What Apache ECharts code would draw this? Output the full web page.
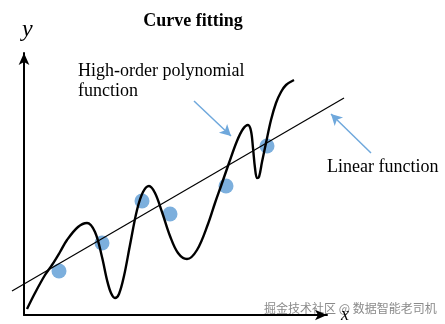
<!DOCTYPE html>
<html><head><meta charset="utf-8">
<script src="https://cdn.jsdelivr.net/npm/echarts@6/dist/echarts.min.js"></script>
<style>html,body{margin:0;padding:0;background:#fff}#c{width:445px;height:324px}</style>
</head><body><div id="c"></div>
<script>
// Data (axis units)
const samplePoints = [[35,44],[78,72],[118,114],[146,101],[202,129],[243,169]];
const linearFit = [[-12,24],[320,217]];
const polyFit = [[3,6],[11,22],[21,40],[28,50],[36,63],[43,75],[54,88],[63,92],[71,83],[78,58],[83,35],[87,22],[91,17],[95,21],[100,39],[106,70],[113,105],[119,123],[125,129],[131,122],[138,103],[146,79],[154,62],[163,56],[173,65],[184,91],[191,112],[197,129],[205,152],[213,174],[219,186],[224,190],[227,184],[229,167],[231,147],[233,137],[235,138],[238,153],[242,172],[247,195],[252,212],[257,223],[262,230],[270,235]];
const polyArrow = [[170,214],[207,179]];
const linearArrow = [[347,162],[307,201]];
const titleText = 'Curve fitting';
const polyLabel = ['High-order polynomial','function'];
const linearLabel = 'Linear function';
const watermark = '掘金技术社区 @ 数据智能老司机';

const serif = '"Liberation Serif","Times New Roman",serif';
const chart = echarts.init(document.getElementById('c'));
const hiddenAxis = {type:'value',show:false,splitLine:{show:false}};
chart.setOption({
  animation:false,
  title:{text:titleText,left:188,top:7,textAlign:'center',textStyle:{fontFamily:serif,fontWeight:'bold',fontSize:18,color:'#000'}},
  grid:[
    {left:24,top:53,width:303,height:263},
    {left:0,top:0,width:445,height:324}
  ],
  xAxis:[
    {gridIndex:0,type:'value',min:0,max:303,splitLine:{show:false},axisTick:{show:false},axisLabel:{show:false},
      axisLine:{lineStyle:{color:'#000',width:2},symbol:['none','arrow'],symbolSize:[8,12]},
      name:'x',nameLocation:'end',nameGap:14,nameTextStyle:{fontFamily:serif,fontStyle:'italic',fontSize:18,color:'#000',verticalAlign:'middle',padding:[0,0,8,0]}},
    Object.assign({gridIndex:1,min:-24,max:421},hiddenAxis)
  ],
  yAxis:[
    {gridIndex:0,type:'value',min:0,max:263,splitLine:{show:false},axisTick:{show:false},axisLabel:{show:false},
      axisLine:{lineStyle:{color:'#000',width:2},symbol:['none','arrow'],symbolSize:[8,12]},
      name:'y',nameLocation:'end',nameGap:11,nameTextStyle:{fontFamily:serif,fontStyle:'italic',fontSize:24,color:'#000',align:'left',padding:[0,0,0,-2]}},
    Object.assign({gridIndex:1,min:-9,max:315},hiddenAxis)
  ],
  graphic:[
    {type:'text',left:78,top:62,style:{text:polyLabel[0],font:'18px '+serif,fill:'#000'}},
    {type:'text',left:78,top:82,style:{text:polyLabel[1],font:'18px '+serif,fill:'#000'}},
    {type:'text',left:327,top:158,style:{text:linearLabel,font:'18px '+serif,fill:'#000'}},
    {type:'text',left:264,top:302,style:{text:watermark,font:'12px "Noto Sans CJK SC",sans-serif',fill:'#8a8a8a'}}
  ],
  series:[
    {type:'line',xAxisIndex:1,yAxisIndex:1,data:linearFit,symbol:'none',lineStyle:{color:'#000',width:1.2},z:2},
    {type:'line',xAxisIndex:1,yAxisIndex:1,data:polyFit,symbol:'none',smooth:0.35,lineStyle:{color:'#000',width:2.4},z:3},
    {type:'scatter',xAxisIndex:1,yAxisIndex:1,data:samplePoints,symbolSize:15,itemStyle:{color:'#5b9bd5'},z:1},
    {type:'line',xAxisIndex:1,yAxisIndex:1,data:[],markLine:{silent:true,symbol:['none','arrow'],symbolSize:[9,11],label:{show:false},
      lineStyle:{color:'#6fa8dc',width:1.5,type:'solid'},
      data:[[{coord:polyArrow[0]},{coord:polyArrow[1]}],[{coord:linearArrow[0]},{coord:linearArrow[1]}]]}}
  ]
});
</script></body></html>
